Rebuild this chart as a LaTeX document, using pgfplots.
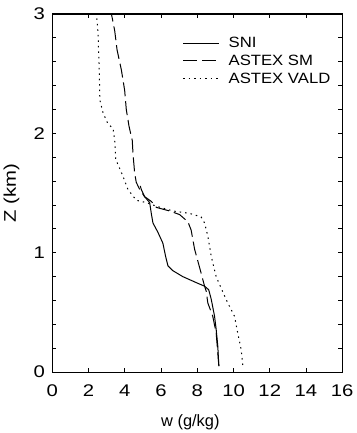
\documentclass[border=0pt]{standalone}
\usepackage{fontspec}
\setmainfont{Liberation Sans}
\usepackage{graphicx}
\usepackage{pgfplots}
\pgfplotsset{compat=1.18}
\newcommand{\wl}[1]{\scalebox{1.12}[1]{#1}}
\begin{document}
\begin{tikzpicture}
\begin{axis}[
  scale only axis,
  width=290.5bp, height=359bp,
  xmin=0, xmax=16, ymin=0, ymax=3,
  xtick={0,2,...,16},
  ytick={0,1,2,3},
  minor y tick num=4,
  tick align=inside,
  major tick length=4bp,
  minor tick length=4bp,
  axis line style={line width=1.1bp},
  every tick/.style={line width=0.8bp, black},
  /pgf/number format/assume math mode=true,
  tick label style={font=\fontsize{17}{20}\selectfont},
  xticklabel={\scalebox{1.2}[1]{\pgfmathprintnumber{\tick}}},
  yticklabel={\scalebox{1.2}[1]{\pgfmathprintnumber{\tick}}},
  xticklabel style={yshift=-9bp},
  yticklabel style={xshift=-4bp},
  xlabel={w (g/kg)},
  ylabel={\scalebox{1.2}[1]{Z (km)}},
  xlabel style={font=\fontsize{16.5}{20}\selectfont, at={(axis description cs:0.5,0)}, anchor=center, yshift=-50bp, xshift=-7bp},
  ylabel style={font=\fontsize{17}{20}\selectfont, at={(axis description cs:0,0.5)}, anchor=center, yshift=41bp},
  legend style={at={(rel axis cs:0.449,0.9415)}, anchor=north west, draw=none, fill=none,
    font=\fontsize{15}{18}\selectfont, row sep=2bp, column sep=7bp, inner sep=0pt},
  legend cell align=left,
  legend image code/.code={\draw[#1] (0bp,0bp) -- (36bp,0bp);},
]
\addplot[black, line width=1bp] coordinates {
(9.19,0.05) (9.13,0.22) (9.04,0.36) (8.95,0.47) (8.77,0.61) (8.63,0.69)
(8.40,0.72) (7.94,0.75) (7.20,0.80) (6.65,0.85) (6.38,0.89) (6.25,0.97)
(6.10,1.08) (5.83,1.17) (5.55,1.25) (5.46,1.33) (5.37,1.42) (5.09,1.47)
(4.91,1.53) (4.85,1.56)
};
\addlegendentry{\wl{SNI}}
\addplot[black, line width=1bp, dash pattern=on 14bp off 5bp] coordinates {
(9.19,0.05) (9.10,0.22) (9.04,0.33) (8.85,0.47) (8.58,0.58) (8.49,0.68)
(8.40,0.72) (8.21,0.83) (8.03,0.93) (7.85,1.03) (7.66,1.19) (7.48,1.26)
(7.02,1.32) (6.47,1.35) (5.74,1.38) (5.46,1.43) (5.09,1.47) (4.82,1.53)
(4.63,1.59) (4.54,1.67) (4.45,1.83) (4.41,1.94) (4.23,2.06) (4.08,2.20)
(3.99,2.36) (3.81,2.53) (3.57,2.70) (3.44,2.86) (3.26,3.00)
};
\addlegendentry{\wl{ASTEX SM}}
\addplot[black, line width=1bp, dash pattern=on 1.5bp off 4bp] coordinates {
(10.51,0.06) (10.42,0.19) (10.23,0.33) (10.05,0.47) (9.68,0.58) (9.50,0.64)
(9.04,0.80) (8.77,0.97) (8.58,1.14) (8.40,1.25) (8.21,1.30) (7.57,1.33)
(6.65,1.35) (5.74,1.39) (5.19,1.42) (4.63,1.44) (4.17,1.53) (3.90,1.64)
(3.62,1.74) (3.50,1.78) (3.44,1.94) (3.35,2.04) (3.07,2.08) (2.80,2.17)
(2.62,2.28) (2.58,2.56) (2.52,2.84) (2.43,3.00)
};
\addlegendentry{\wl{ASTEX VALD}}
\end{axis}
\path (current axis.south west) ++(-52.5bp,-60bp) rectangle ++(357bp,433bp);
\end{tikzpicture}
\end{document}
